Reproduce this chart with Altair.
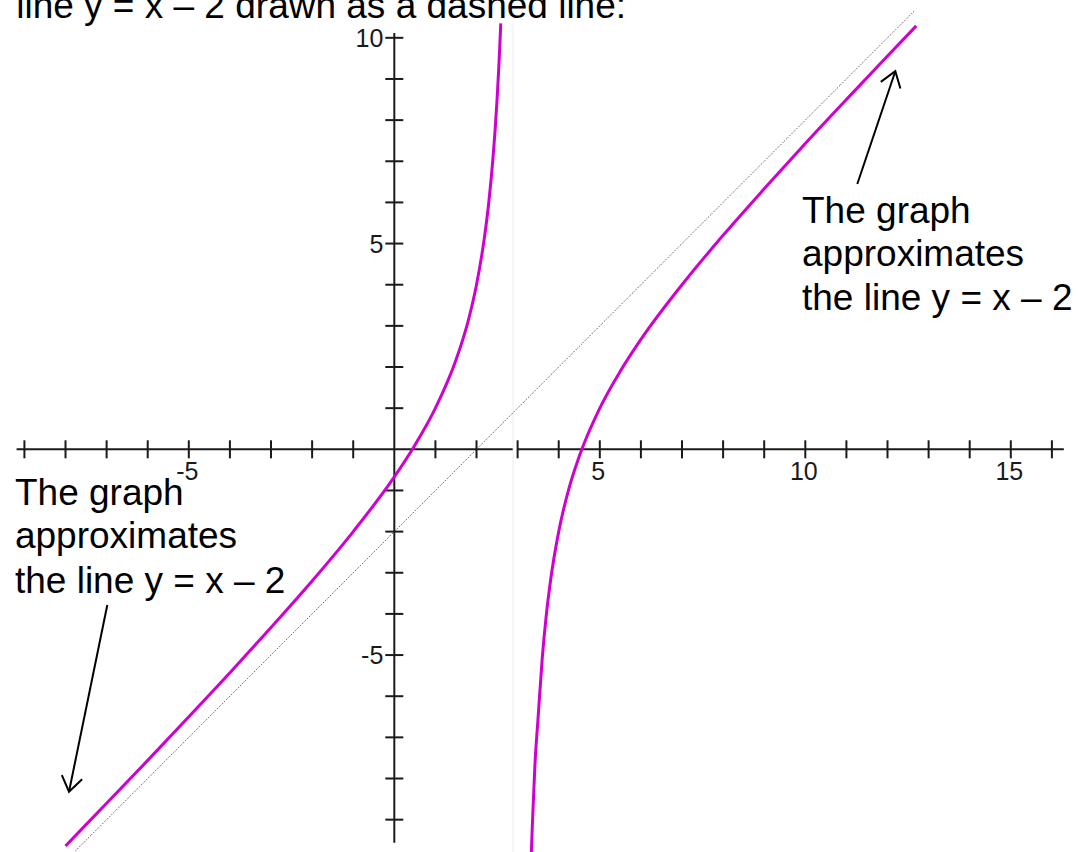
import altair as alt
import pandas as pd

# Graph of y = (x^2 - 5x + 2) / (x - 3): two branches either side of x = 3
left_x = [-8, -7, -6, -5, -4, -3, -2, -1, 0, 0.5, 1, 1.5, 1.8, 2.0, 2.2, 2.3,
          2.4, 2.45, 2.5, 2.54, 2.57, 2.59]
left_y = [-9.64, -8.6, -7.56, -6.5, -5.43, -4.33, -3.2, -2.0, -0.67, 0.1, 1.0,
          2.17, 3.13, 4.0, 5.2, 6.01, 7.07, 7.72, 8.5, 9.24, 9.87, 10.35]
right_x = [3.33, 3.36, 3.42, 3.5, 3.6, 3.7, 3.8, 4.0, 4.25, 4.5, 5, 5.5, 6, 7,
           8, 9, 10, 11, 12, 12.7]
right_y = [-9.9, -9.1, -7.7, -6.5, -5.07, -4.01, -3.2, -2.0, -0.95, -0.17, 1.0,
           1.9, 2.67, 4.0, 5.2, 6.33, 7.43, 8.5, 9.56, 10.29]

# Slant asymptote y = x - 2 (dotted)
guide_x = [-7.75, 12.65]
guide_y = [-9.75, 10.65]

# Axis ticks and labels
x_ticks = [v for v in range(-9, 17) if v != 0]
y_ticks = [v for v in range(-9, 11) if v != 0]
x_labels = [-5, 5, 10, 15]
y_labels = [-5, 5, 10]

# Axis segments (x-axis is broken at the asymptote)
axis_x1 = [-9.19, 3.0, 0]
axis_x2 = [2.88, 16.29, 0]
axis_y1 = [0, 0, -9.56]
axis_y2 = [0, 0, 10.12]

# Text annotations
title_text = "line y = x \u2013 2 drawn as a dashed line:"
note_lines = ["The graph", "approximates", "the line y = x \u2013 2"]
note_right_x = 9.92
note_right_y = [5.50, 4.445, 3.397]
note_left_x = -9.23
note_left_y = [-1.354, -2.41, -3.49]

# Arrows: tail -> tip
arrow_x1 = [11.265, -6.983]
arrow_y1 = [6.447, -3.784]
arrow_x2 = [12.19, -7.915]
arrow_y2 = [9.188, -8.321]
arrow_angle = [18.6, 191.6]

XS = alt.Scale(domain=[-9.594, 16.635], nice=False, zero=False)
YS = alt.Scale(domain=[-9.786, 10.919], nice=False, zero=False)
FONT = "Liberation Sans"
INK = "#1a1a1a"


def X(f):
    return alt.X(f, type="quantitative", scale=XS, axis=None)


def Y(f):
    return alt.Y(f, type="quantitative", scale=YS, axis=None)


curve = pd.DataFrame({
    "x": left_x + right_x,
    "y": left_y + right_y,
    "branch": ["left"] * len(left_x) + ["right"] * len(right_x),
})
guide = pd.DataFrame({"x": guide_x, "y": guide_y})
axes = pd.DataFrame({"x": axis_x1, "x2": axis_x2, "y": axis_y1, "y2": axis_y2})
xt = pd.DataFrame({"x": x_ticks, "y": [0] * len(x_ticks)})
yt = pd.DataFrame({"x": [0] * len(y_ticks), "y": y_ticks})
xl = pd.DataFrame({"x": x_labels, "y": [0] * len(x_labels),
                   "t": [str(v) for v in x_labels]})
yl = pd.DataFrame({"x": [0] * len(y_labels), "y": y_labels,
                   "t": [str(v) for v in y_labels]})
notes = pd.DataFrame({
    "x": [note_right_x] * 3 + [note_left_x] * 3 + [-9.20],
    "y": note_right_y + note_left_y + [10.493],
    "t": note_lines + note_lines + [title_text],
})
arrows = pd.DataFrame({"x": arrow_x1, "y": arrow_y1, "x2": arrow_x2,
                       "y2": arrow_y2, "angle": arrow_angle})

asym = alt.Chart(pd.DataFrame({"x": [2.89], "y": [-9.8], "y2": [10.35]})).mark_rule(
    color="#ececec", strokeWidth=1
).encode(x=X("x"), y=Y("y"), y2="y2")

axis_lines = alt.Chart(axes).mark_rule(color=INK, strokeWidth=2).encode(
    x=X("x"), x2="x2", y=Y("y"), y2="y2"
)

x_tick_marks = alt.Chart(xt).mark_tick(
    orient="vertical", size=18, thickness=2, color=INK, opacity=1
).encode(x=X("x"), y=Y("y"))

y_tick_marks = alt.Chart(yt).mark_tick(
    orient="horizontal", size=18, thickness=2, color=INK, opacity=1
).encode(x=X("x"), y=Y("y"))

x_tick_text = alt.Chart(xl).mark_text(
    font=FONT, fontSize=25, color=INK, align="center", baseline="top",
    dx=-1.5, dy=11
).encode(x=X("x"), y=Y("y"), text="t")

y_tick_text = alt.Chart(yl).mark_text(
    font=FONT, fontSize=25, color=INK, align="right", baseline="middle",
    dx=-11, dy=1
).encode(x=X("x"), y=Y("y"), text="t")

guide_line = alt.Chart(guide).mark_line(
    color="#333333", strokeWidth=1, strokeDash=[1, 1.5]
).encode(x=X("x"), y=Y("y"))

graph = alt.Chart(curve).mark_line(
    color="#d000d0", strokeWidth=3, interpolate="monotone"
).encode(x=X("x"), y=Y("y"), detail="branch:N", order="x:Q")

note_text = alt.Chart(notes).mark_text(
    font=FONT, fontSize=37, color="#000000", align="left", baseline="alphabetic"
).encode(x=X("x"), y=Y("y"), text="t")

arrow_shafts = alt.Chart(arrows).mark_rule(color="#000000", strokeWidth=2).encode(
    x=X("x"), y=Y("y"), x2="x2", y2="y2"
)

arrow_heads = alt.Chart(arrows).mark_point(
    shape="M -0.574 0.819 L 0 0 L 0.574 0.819",
    size=1300, filled=False, color="#000000", strokeWidth=2, opacity=1
).encode(x=X("x2"), y=Y("y2"), angle=alt.Angle("angle:Q", scale=None))

chart = alt.layer(
    asym, axis_lines, x_tick_marks, y_tick_marks, x_tick_text, y_tick_text,
    guide_line, graph, note_text, arrow_shafts, arrow_heads
).properties(
    width=1078, height=852, padding=0, autosize=alt.AutoSizeParams(type="none"),
    background="white"
).configure_view(stroke=None)

chart.save("out.html", embed_options={"renderer": "svg", "actions": False})
